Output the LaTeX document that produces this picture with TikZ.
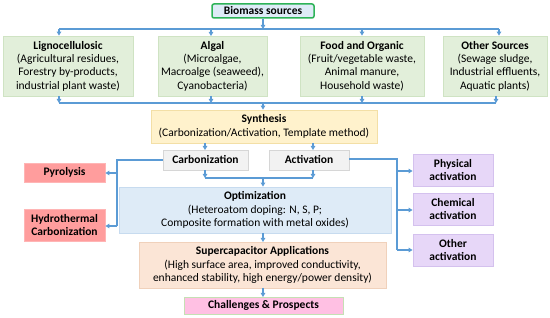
\documentclass[tikz,border=0pt]{standalone}
\usepackage{fontspec}
\setmainfont{Carlito}
\usetikzlibrary{arrows.meta}
\definecolor{arrowblue}{HTML}{5B9BD5}
\definecolor{greenfill}{HTML}{E2EFDA}
\definecolor{greendraw}{HTML}{CFE3C3}
\definecolor{biofill}{HTML}{DEEBF7}
\definecolor{bioedge}{HTML}{2EB358}
\definecolor{synfill}{HTML}{FFF2CC}
\definecolor{syndraw}{HTML}{F3DFA6}
\definecolor{grayfill}{HTML}{F2F2F2}
\definecolor{graydraw}{HTML}{D6D6D6}
\definecolor{redfill}{HTML}{FF9D9D}
\definecolor{reddraw}{HTML}{FFB5B5}
\definecolor{purfill}{HTML}{E7D7F8}
\definecolor{purdraw}{HTML}{D4C1EE}
\definecolor{optfill}{HTML}{DEEBF7}
\definecolor{optdraw}{HTML}{C7DBEF}
\definecolor{supfill}{HTML}{FBE5D6}
\definecolor{supdraw}{HTML}{F0D1BB}
\definecolor{chlfill}{HTML}{FFC0E3}
\definecolor{chldraw}{HTML}{C5E0B4}
\tikzset{
  box/.style={draw, line width=0.8pt, inner sep=0pt, align=center,
    font=\fontsize{11.5}{13.3}\selectfont},
  gbox/.style={box, fill=greenfill, draw=greendraw},
  link/.style={draw=arrowblue, line width=1.5pt},
  arr/.style={link, -{Triangle[length=4pt,width=4.5pt]}},
}
\newcommand{\bt}[1]{\textbf{#1}}
\begin{document}
\begin{tikzpicture}[x=1pt,y=-1pt]
\useasboundingbox (0,0) rectangle (550,318);
% nodes
\node[box, fill=biofill, draw=bioedge, line width=1.5pt, rounded corners=2pt,
  minimum width=102pt, minimum height=14pt] (bio) at (263,11) {\bt{Biomass sources}};
\node[gbox, minimum width=130pt, minimum height=60pt] (lig) at (68,66)
  {\bt{Lignocellulosic}\\(Agricultural residues,\\Forestry by-products,\\industrial plant waste)};
\node[gbox, minimum width=109pt, minimum height=60pt] (alg) at (212.5,66)
  {\bt{Algal}\\(Microalgae,\\Macroalge (seaweed),\\Cyanobacteria)};
\node[gbox, minimum width=124pt, minimum height=60pt] (food) at (362,66)
  {\bt{Food and Organic}\\(Fruit/vegetable waste,\\Animal manure,\\Household waste)};
\node[gbox, minimum width=104pt, minimum height=60pt] (oth) at (495,66)
  {\bt{Other Sources}\\(Sewage sludge,\\Industrial effluents,\\Aquatic plants)};
\node[box, fill=synfill, draw=syndraw, minimum width=226pt, minimum height=33pt] (syn) at (264,126.5)
  {\bt{Synthesis}\\(Carbonization/Activation, Template method)};
\node[box, fill=grayfill, draw=graydraw, minimum width=85pt, minimum height=20pt] (carb) at (205.5,160)
  {\bt{Carbonization}};
\node[box, fill=grayfill, draw=graydraw, minimum width=80pt, minimum height=20pt] (act) at (309,160)
  {\bt{Activation}};
\node[box, fill=redfill, draw=reddraw, minimum width=81pt, minimum height=19pt] (pyr) at (64.5,172.5)
  {\bt{Pyrolysis}};
\node[box, fill=redfill, draw=reddraw, minimum width=81pt, minimum height=32pt] (hyd) at (64.5,225)
  {\bt{Hydrothermal}\\\bt{Carbonization}};
\node[box, fill=optfill, draw=optdraw, minimum width=272pt, minimum height=46pt] (opt) at (255,210)
  {\bt{Optimization}\\(Heteroatom doping: N, S, P;\\Composite formation with metal oxides)};
\node[box, fill=purfill, draw=purdraw, minimum width=80pt, minimum height=32pt] (phy) at (453,170)
  {\bt{Physical}\\\bt{activation}};
\node[box, fill=purfill, draw=purdraw, minimum width=80pt, minimum height=32pt] (che) at (453,209)
  {\bt{Chemical}\\\bt{activation}};
\node[box, fill=purfill, draw=purdraw, minimum width=80pt, minimum height=32pt] (oact) at (453,250)
  {\bt{Other}\\\bt{activation}};
\node[box, fill=supfill, draw=supdraw, minimum width=247pt, minimum height=46pt] (sup) at (262.5,265)
  {\bt{Supercapacitor Applications}\\(High surface area, improved conductivity,\\enhanced stability, high energy/power density)};
\node[box, fill=chlfill, draw=chldraw, minimum width=159pt, minimum height=17pt] (chl) at (263.5,305.5)
  {\bt{Challenges \& Prospects}};
% bus coordinates
\coordinate (t0) at (263,29);
\coordinate (tl) at (59,29);
\coordinate (tr) at (499,29);
\coordinate (b0) at (263,103);
\coordinate (bl) at (59,103);
\coordinate (br) at (496,103);
\coordinate (m0) at (263,178);
\coordinate (ml) at (205,178);
\coordinate (mr) at (313,178);
\coordinate (lc) at (117,160);
\coordinate (rc) at (397,159);
% top distribution
\draw[arr] (bio.south -| t0) -- (t0);
\draw[link] (tl) -- (tr);
\draw[arr] (tl) -- (tl |- lig.north);
\draw[arr] (211,29) -- (211,36) coordinate (algtop);
\draw[arr] (362,29) -- (food.north);
\draw[arr] (tr) -- (tr |- oth.north);
% bottom collection
\draw[arr] (bl |- lig.south) -- (bl);
\draw[arr] (211,96) -- (211,103);
\draw[arr] (food.south) -- (362,103);
\draw[arr] (br |- oth.south) -- (br);
\draw[link] (bl) -- (br);
\draw[arr] (b0) -- (b0 |- syn.north);
% synthesis split
\draw[arr] (205,143) -- (205,150);
\draw[arr] (313,143) -- (313,150);
% merge into optimization
\draw[arr] (ml |- carb.south) -- (ml);
\draw[arr] (mr |- act.south) -- (mr);
\draw[link] (ml) -- (mr);
\draw[arr] (m0) -- (m0 |- opt.north);
% carbonization branches
\draw[link] (carb.west) -- (lc) -- (117,226);
\draw[arr] (117,173) -- (pyr.east |- 117,173);
\draw[arr] (117,226) -- (hyd.east |- 117,226);
% activation branches
\draw[link] (act.east |- rc) -- (rc) -- (397,250);
\draw[arr] (397,171) -- (phy.west |- 397,171);
\draw[arr] (397,210) -- (che.west |- 397,210);
\draw[arr] (397,250) -- (oact.west);
% downstream
\draw[arr] (263,233) -- (263,242);
\draw[arr] (263,288) -- (263,297);
\end{tikzpicture}
\end{document}
